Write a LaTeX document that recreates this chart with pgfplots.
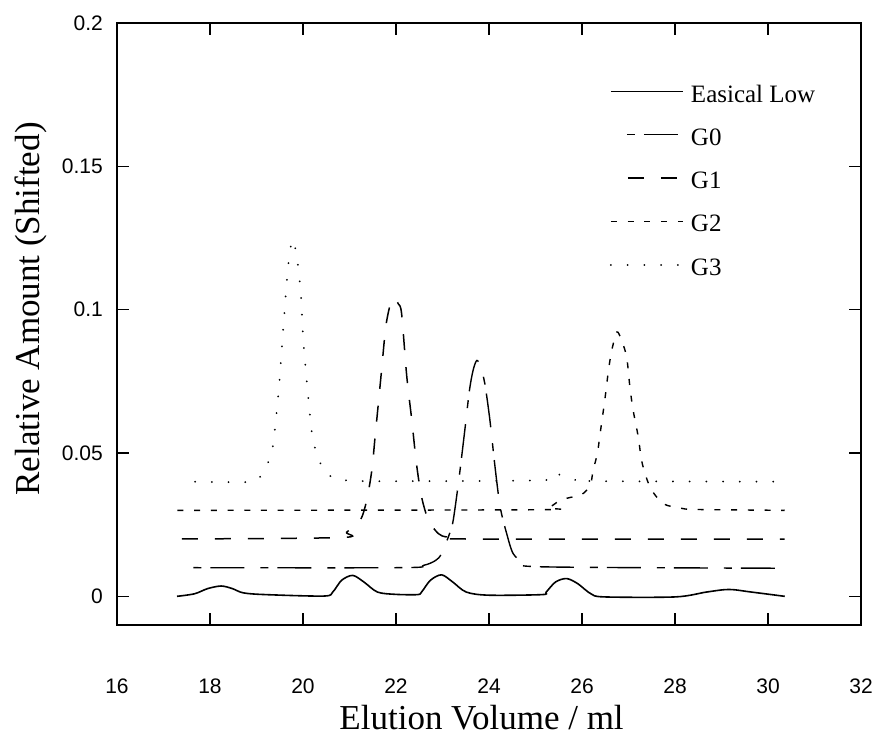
\documentclass[border=0pt]{standalone}
\usepackage{fontspec}
\setmainfont{Liberation Serif}
\newfontfamily\tickfont{Liberation Sans}
\usepackage{pgfplots}
\usepackage{pgfplotstable}
\pgfplotsset{compat=1.18}

\pgfplotstableread{
x y
17.29 0.0000
17.67 0.0009
17.95 0.0027
18.24 0.0036
18.48 0.0027
18.72 0.0012
19.20 0.0006
20.45 0.0001
20.64 0.0015
20.83 0.0056
21.07 0.0073
21.31 0.0050
21.60 0.0015
21.98 0.0007
22.46 0.0006
22.55 0.0015
22.74 0.0056
22.98 0.0075
23.22 0.0050
23.51 0.0015
23.99 0.0004
25.14 0.0006
25.23 0.0015
25.43 0.0050
25.67 0.0062
25.91 0.0044
26.19 0.0009
26.48 -0.0002
28.01 -0.0002
28.68 0.0015
29.16 0.0024
29.64 0.0015
30.36 0.0000
}\easical

\pgfplotstableread{
x y
17.30 0.0100
22.09 0.0100
22.59 0.0108
22.85 0.0125
22.98 0.0149
23.15 0.0218
23.23 0.0265
23.35 0.0405
23.48 0.0580
23.58 0.0719
23.66 0.0790
23.74 0.0823
23.82 0.0800
23.91 0.0742
24.02 0.0614
24.13 0.0451
24.24 0.0312
24.38 0.0219
24.52 0.0149
24.74 0.0120
25.13 0.0103
30.36 0.0098
}\gzero

\pgfplotstableread{
x y
17.03 0.0200
20.80 0.0205
20.94 0.0224
21.23 0.0265
21.37 0.0335
21.48 0.0440
21.55 0.0556
21.62 0.0672
21.69 0.0789
21.78 0.0940
21.88 0.1020
21.97 0.1042
22.05 0.1020
22.12 0.0987
22.23 0.0770
22.34 0.0614
22.44 0.0463
22.55 0.0347
22.70 0.0265
22.91 0.0219
23.09 0.0207
23.50 0.0200
30.36 0.0200
}\gone

\pgfplotstableread{
x y
17.30 0.0300
25.00 0.0302
25.28 0.0309
25.53 0.0335
25.75 0.0345
25.96 0.0352
26.10 0.0370
26.19 0.0393
26.24 0.0440
26.33 0.0498
26.39 0.0568
26.44 0.0626
26.49 0.0684
26.57 0.0789
26.64 0.0858
26.75 0.0922
26.85 0.0893
26.96 0.0835
27.03 0.0730
27.10 0.0649
27.21 0.0556
27.28 0.0475
27.38 0.0416
27.50 0.0370
27.75 0.0323
28.11 0.0308
28.47 0.0303
30.36 0.0300
}\gtwo

\pgfplotstableread{
x y
17.68 0.0400
18.90 0.0400
19.12 0.0430
19.30 0.0486
19.37 0.0544
19.405 0.0599
19.477 0.0718
19.556 0.0890
19.634 0.1062
19.70 0.1180
19.78 0.1245
19.87 0.1180
19.95 0.1062
20.01 0.0886
20.10 0.0716
20.17 0.0599
20.22 0.0542
20.32 0.0486
20.51 0.0426
20.87 0.0411
21.30 0.0402
25.13 0.0405
25.49 0.0425
25.85 0.0407
26.20 0.0402
30.17 0.0400
}\gthree

\begin{document}
\begin{tikzpicture}
\begin{axis}[
  at={(0pt,0pt)}, anchor=south west,
  scale only axis, width=744pt, height=602pt,
  xmin=16, xmax=32, ymin=-0.01, ymax=0.2,
  xtick={16,18,20,22,24,26,28,30,32},
  xticklabels={16,18,20,22,24,26,28,30,32},
  ytick={0,0.05,0.1,0.15,0.2},
  yticklabels={0,0.05,0.1,0.15,0.2},
  tick align=inside, tick pos=both, major tick length=12pt,
  axis line style={line width=1.5pt, black},
  every tick/.style={line width=1.3pt, black},
  xticklabel style={font=\tickfont\fontsize{21}{21}\selectfont, anchor=base, yshift=-68pt, inner sep=0pt},
  yticklabel style={font=\tickfont\fontsize{21}{21}\selectfont, anchor=east, xshift=-14pt, inner sep=0pt},
  every axis x label/.style={at={(axis description cs:0.49,-0.1728)}, anchor=base, inner sep=0pt, font=\fontsize{35}{35}\selectfont},
  every axis y label/.style={at={(axis description cs:-0.1035,0.525)}, rotate=90, anchor=base, inner sep=0pt, font=\fontsize{35}{35}\selectfont},
  xlabel={Elution Volume / ml},
  ylabel={Relative Amount (Shifted)},
  legend style={at={(rel axis cs:0.6626,0.897)}, anchor=north west, draw=none, fill=none,
    inner sep=0pt, outer sep=0pt, row sep=26.3pt, column sep=0pt,
    nodes={inner sep=0pt, outer sep=0pt, text height=17pt, text depth=0pt, anchor=base west,
      font=\fontsize{25}{25}\selectfont}},
  legend cell align=left,
  legend image code/.code={\draw[#1] (0pt,10.6pt) -- (72pt,10.6pt); \path (79pt,10pt);},
]
\addplot[black, line width=1.6pt, smooth, tension=0.5] table[x=x,y=y] {\easical};
\addlegendentry{Easical Low}
\addplot[black, line width=1.4pt, smooth, tension=0.5, dash pattern=on 8pt off 9pt on 34pt off 16pt, dash phase=51pt] table[x=x,y=y] {\gzero};
\addlegendentry{G0}
\addplot[black, line width=1.5pt, smooth, tension=0.5, dash pattern=on 16pt off 17pt, dash phase=16pt] table[x=x,y=y] {\gone};
\addlegendentry{G1}
\addplot[black, line width=1.4pt, smooth, tension=0.5, dash pattern=on 6pt off 10.7pt] table[x=x,y=y] {\gtwo};
\addlegendentry{G2}
\addplot[black, line width=2pt, line cap=round, smooth, tension=0.5, dash pattern=on 0.01pt off 16.7pt] table[x=x,y=y] {\gthree};
\addlegendentry{G3}
\end{axis}
\pgfresetboundingbox
\useasboundingbox (-117pt,-114pt) rectangle (761pt,625pt);
\end{tikzpicture}
\end{document}
